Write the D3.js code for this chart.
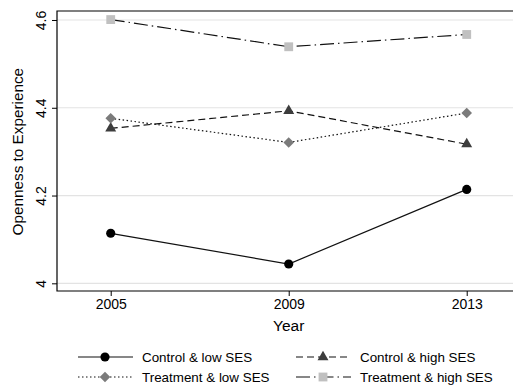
<!DOCTYPE html>
<html>
<head>
<meta charset="utf-8">
<script src="https://cdn.jsdelivr.net/npm/d3@7"></script>
<style>
  body { margin: 0; background: #fff; }
  svg { display: block; font-family: "Liberation Sans", Arial, sans-serif; }
</style>
</head>
<body>
<div id="chart"></div>
<script>
const years = [2005, 2009, 2013];
const controlLow = [4.114, 4.044, 4.214];
const controlHigh = [4.353, 4.393, 4.317];
const treatmentLow = [4.376, 4.321, 4.388];
const treatmentHigh = [4.601, 4.539, 4.567];
const yTicks = [4, 4.2, 4.4, 4.6];
const seriesNames = ["Control & low SES", "Control & high SES", "Treatment & low SES", "Treatment & high SES"];

const W = 513, H = 387;
const margin = { top: 11, right: -2, bottom: 96, left: 57 };
const width = W - margin.left - margin.right,
      height = H - margin.top - margin.bottom;

const x = d3.scaleLinear().domain([2003.793, 2014.085]).range([0, width]);
const y = d3.scaleLinear().domain([3.9825, 4.6205]).range([height, 0]);

const series = [
  { name: seriesNames[0], values: controlLow, dash: null, sym: d3.symbolCircle, size: 66, rot: 0, fill: "#000" },
  { name: seriesNames[1], values: controlHigh, dash: "7,4", sym: d3.symbolTriangle, size: 52, rot: 0, fill: "#3d3d3d" },
  { name: seriesNames[2], values: treatmentLow, dash: "1.5,2.5", sym: d3.symbolSquare, size: 56, rot: 45, fill: "#7b7b7b" },
  { name: seriesNames[3], values: treatmentHigh, dash: "14,4,1.5,4", sym: d3.symbolSquare, size: 78, rot: 0, fill: "#c0c0c0" }
];

const svg = d3.select("#chart").append("svg")
    .attr("width", W)
    .attr("height", H);

const g = svg.append("g")
    .attr("transform", `translate(${margin.left},${margin.top})`);

// grid
g.selectAll(".grid").data(yTicks).enter().append("line")
    .attr("x1", 0).attr("x2", width)
    .attr("y1", d => y(d)).attr("y2", d => y(d))
    .attr("stroke", "#e3e3e3").attr("stroke-width", 1.2);

// box (top + left + bottom)
g.append("path")
    .attr("d", `M${width},0H0V${height}H${width}`)
    .attr("fill", "none").attr("stroke", "#000").attr("stroke-width", 1.2);

// y axis
const yAxis = d3.axisLeft(y).tickValues(yTicks).tickSize(5).tickFormat(d3.format("~g"));
const ya = g.append("g").call(yAxis);
ya.select(".domain").remove();
ya.selectAll("line").attr("stroke", "#000");
ya.selectAll("text")
    .attr("transform", "rotate(-90)")
    .attr("x", 0).attr("y", -11)
    .attr("dy", 0)
    .attr("text-anchor", "middle")
    .style("font-size", "14px").attr("fill", "#000");

// x axis
const xAxis = d3.axisBottom(x).tickValues(years).tickSize(5).tickFormat(d3.format("d"));
const xa = g.append("g").attr("transform", `translate(0,${height})`).call(xAxis);
xa.select(".domain").remove();
xa.selectAll("line").attr("stroke", "#000");
xa.selectAll("text").attr("y", 8).style("font-size", "14px").attr("fill", "#000");

// axis titles
svg.append("text")
    .attr("transform", `translate(23,${margin.top + y(4.3)}) rotate(-90)`)
    .attr("text-anchor", "middle")
    .style("font-size", "15.3px")
    .text("Openness to Experience");

svg.append("text")
    .attr("x", margin.left + x(2009)).attr("y", 331)
    .attr("text-anchor", "middle")
    .style("font-size", "15.5px")
    .text("Year");

// lines and markers
const line = d3.line().x((d, i) => x(years[i])).y(d => y(d));

series.forEach(s => {
  g.append("path")
      .datum(s.values)
      .attr("d", line)
      .attr("fill", "none")
      .attr("stroke", "#111")
      .attr("stroke-width", 1.2)
      .attr("stroke-dasharray", s.dash);
});
series.forEach(s => {
  g.selectAll(null).data(s.values).enter().append("path")
      .attr("transform", (d, i) => `translate(${x(years[i])},${y(d)}) rotate(${s.rot})`)
      .attr("d", d3.symbol().type(s.sym).size(s.size))
      .attr("fill", s.fill);
});

// legend
const legPos = [[78, 357], [296, 357], [78, 377], [296, 377]];
series.forEach((s, i) => {
  const [lx, ly] = legPos[i];
  const lg = svg.append("g").attr("transform", `translate(${lx},${ly})`);
  lg.append("line")
      .attr("x1", 0).attr("x2", 55).attr("y1", 0).attr("y2", 0)
      .attr("stroke", "#111").attr("stroke-width", 1.2)
      .attr("stroke-dasharray", s.dash);
  lg.append("path")
      .attr("transform", `translate(27,0) rotate(${s.rot})`)
      .attr("d", d3.symbol().type(s.sym).size(s.size))
      .attr("fill", s.fill);
  lg.append("text")
      .attr("x", 64).attr("y", 0).attr("dy", "0.35em")
      .style("font-size", "13.4px")
      .text(s.name);
});
</script>
</body>
</html>
